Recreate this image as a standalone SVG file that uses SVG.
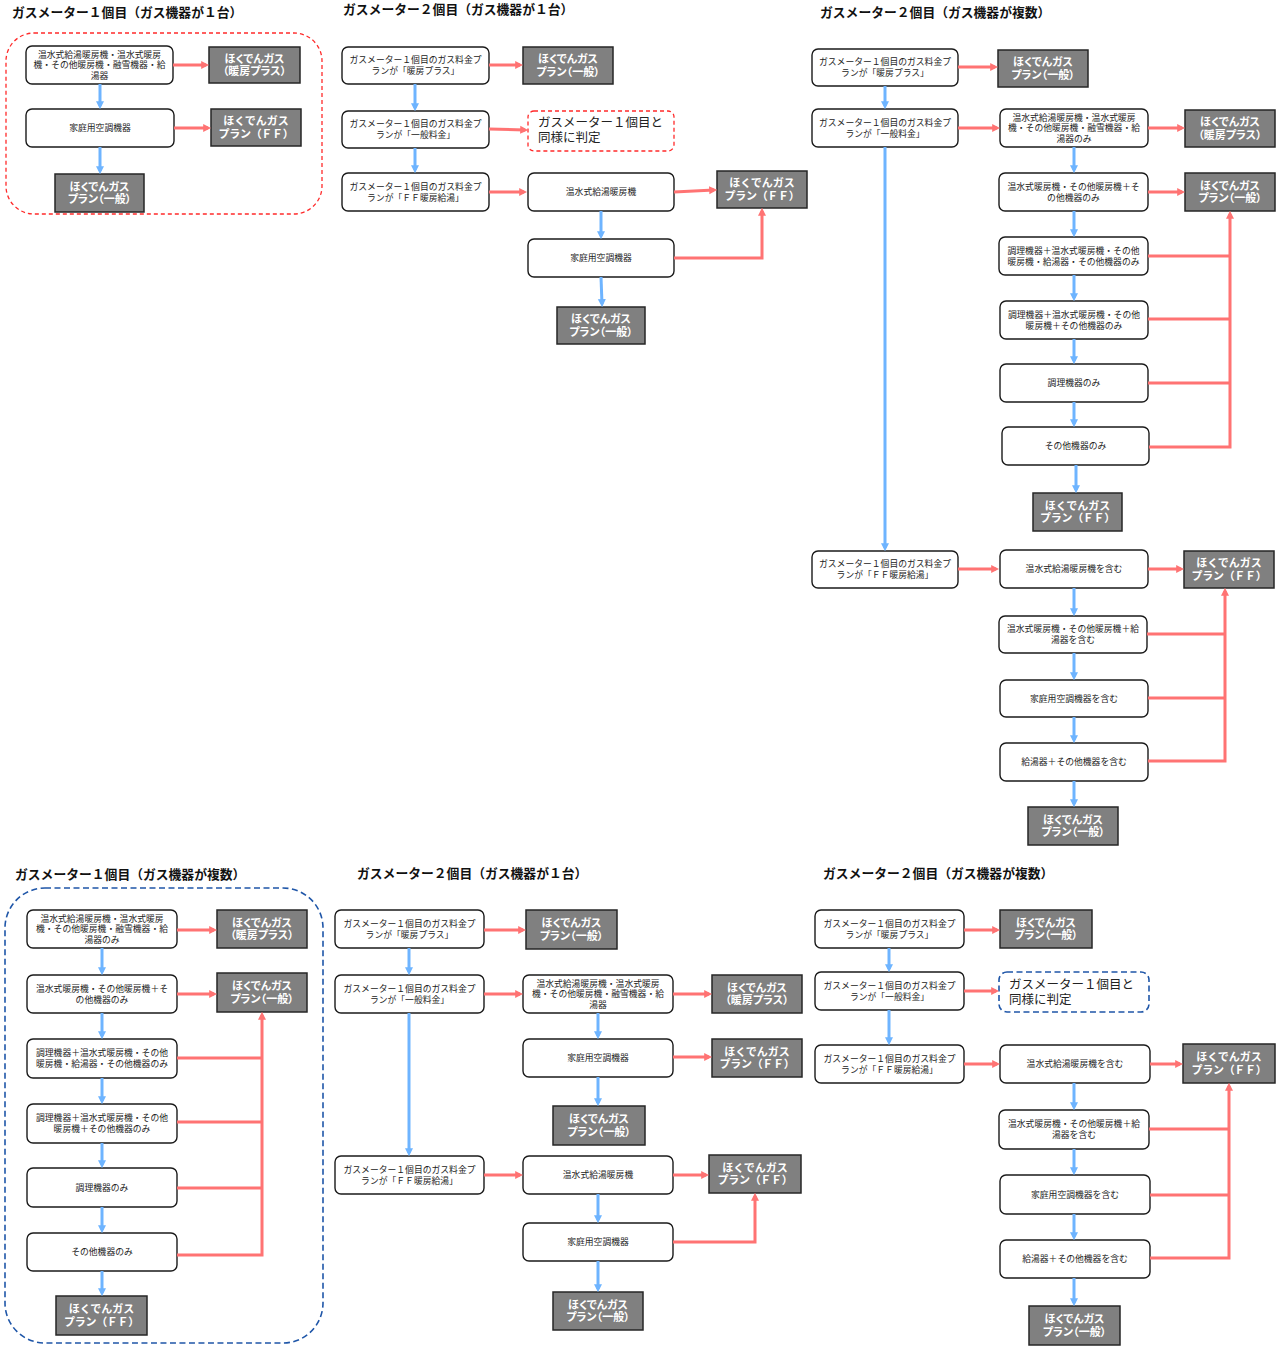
<svg xmlns="http://www.w3.org/2000/svg" width="1280" height="1349" viewBox="0 0 1280 1349">
<defs>
<style>
text{font-family:"Noto Sans CJK JP","Noto Sans CJK SC",sans-serif}
.n{fill:#fff;stroke:#1a1a1a;stroke-width:1.4}
.g{fill:#808080;stroke:#262626;stroke-width:1.5}
.t{font-size:8.8px;fill:#222;text-anchor:middle}
.gt{font-size:11px;font-weight:bold;fill:#fff;text-anchor:middle}
.p{font-feature-settings:"palt"}
.f{letter-spacing:-0.3px}
.h{font-size:12.8px;font-weight:bold;fill:#111}
.d{font-size:12.5px;fill:#222}
.b{stroke:#6EB4FF;stroke-width:3;fill:none;marker-end:url(#mb)}
.r{stroke:#FF7373;stroke-width:3;fill:none}
.ra{stroke:#FF7373;stroke-width:3;fill:none;marker-end:url(#mr)}
</style>
<marker id="mb" viewBox="0 0 10 10" refX="6" refY="5" markerWidth="8" markerHeight="9" markerUnits="userSpaceOnUse" orient="auto"><path d="M0,0 L10,5 L0,10 z" fill="#6EB4FF"/></marker>
<marker id="mr" viewBox="0 0 10 10" refX="6" refY="5" markerWidth="8" markerHeight="9" markerUnits="userSpaceOnUse" orient="auto"><path d="M0,0 L10,5 L0,10 z" fill="#FF7373"/></marker>
</defs>
<rect width="1280" height="1349" fill="#fff"/>

<g id="titles">
<text class="h" x="12" y="16.5">ガスメーター１個目（ガス機器が１台）</text>
<text class="h" x="343" y="14">ガスメーター２個目（ガス機器が１台）</text>
<text class="h" x="820" y="17">ガスメーター２個目（ガス機器が複数）</text>
<text class="h" x="15" y="879">ガスメーター１個目（ガス機器が複数）</text>
<text class="h" x="357" y="878">ガスメーター２個目（ガス機器が１台）</text>
<text class="h" x="823" y="878">ガスメーター２個目（ガス機器が複数）</text>
</g>

<g id="container-red"><rect x="6" y="33" width="316" height="181" rx="28" fill="none" stroke="#FF2A2A" stroke-width="1.3" stroke-dasharray="4 3"/></g>
<g id="container-blue"><rect x="5" y="888" width="318" height="455" rx="40" fill="none" stroke="#1F56A8" stroke-width="1.6" stroke-dasharray="6 3.5"/></g>

<!-- Section 1 -->
<g id="s1-a"><rect class="n" x="26" y="46" width="147" height="38" rx="6"/>
<text class="t" x="99.5" y="57.5"><tspan x="99.5">温水式給湯暖房機・温水式暖房</tspan><tspan x="99.5" dy="10.5">機・その他暖房機・融雪機器・給</tspan><tspan x="99.5" dy="10.5">湯器</tspan></text></g>
<g id="s1-g1"><rect class="g" x="209" y="47" width="91" height="36"/>
<text class="gt p" x="254.5" y="62.5"><tspan x="254.5">ほくでんガス</tspan><tspan x="254.5" dy="12.5">（暖房プラス）</tspan></text></g>
<g id="s1-b"><rect class="n" x="26" y="109" width="148" height="38" rx="6"/>
<text class="t" x="100" y="131">家庭用空調機器</text></g>
<g id="s1-g2"><rect class="g" x="211" y="109" width="90" height="37"/>
<text class="gt" x="256" y="125"><tspan x="256">ほくでんガス</tspan><tspan class="f" x="256" dy="12.5">プラン（ＦＦ）</tspan></text></g>
<g id="s1-g3"><rect class="g" x="55" y="174" width="89" height="38"/>
<text class="gt p" x="99.5" y="190.5"><tspan x="99.5">ほくでんガス</tspan><tspan x="99.5" dy="12.5">プラン（一般）</tspan></text></g>

<!-- Section 2 -->
<g id="s2-n1"><rect class="n" x="342" y="47" width="147" height="37" rx="6"/>
<text class="t" x="415.5" y="63"><tspan x="415.5">ガスメーター１個目のガス料金プ</tspan><tspan x="415.5" dy="11">ランが「暖房プラス」</tspan></text></g>
<g id="s2-g1"><rect class="g" x="523" y="47" width="90" height="37"/>
<text class="gt p" x="568" y="63"><tspan x="568">ほくでんガス</tspan><tspan x="568" dy="12.5">プラン（一般）</tspan></text></g>
<g id="s2-n2"><rect class="n" x="342" y="111" width="147" height="37" rx="6"/>
<text class="t" x="415.5" y="127"><tspan x="415.5">ガスメーター１個目のガス料金プ</tspan><tspan x="415.5" dy="11">ランが「一般料金」</tspan></text></g>
<g id="s2-d1"><rect x="528" y="111" width="146" height="40" rx="6" fill="#fff" stroke="#FF2A2A" stroke-width="1.3" stroke-dasharray="4 3"/>
<text class="d" x="538" y="127"><tspan x="538">ガスメーター１個目と</tspan><tspan x="538" dy="15">同様に判定</tspan></text></g>
<g id="s2-n3"><rect class="n" x="342" y="173" width="147" height="38" rx="6"/>
<text class="t" x="415.5" y="189.5"><tspan x="415.5">ガスメーター１個目のガス料金プ</tspan><tspan x="415.5" dy="11">ランが「ＦＦ暖房給湯」</tspan></text></g>
<g id="s2-n4"><rect class="n" x="528" y="173" width="146" height="38" rx="6"/>
<text class="t" x="601" y="195">温水式給湯暖房機</text></g>
<g id="s2-g2"><rect class="g" x="717" y="171" width="90" height="37"/>
<text class="gt" x="762" y="187"><tspan x="762">ほくでんガス</tspan><tspan class="f" x="762" dy="12.5">プラン（ＦＦ）</tspan></text></g>
<g id="s2-n5"><rect class="n" x="528" y="239" width="146" height="38" rx="6"/>
<text class="t" x="601" y="261">家庭用空調機器</text></g>
<g id="s2-g3"><rect class="g" x="557" y="307" width="88" height="37"/>
<text class="gt p" x="601" y="323"><tspan x="601">ほくでんガス</tspan><tspan x="601" dy="12.5">プラン（一般）</tspan></text></g>

<!-- Section 3 -->
<g id="s3-m1"><rect class="n" x="812" y="49" width="146" height="37" rx="6"/>
<text class="t" x="885" y="65"><tspan x="885">ガスメーター１個目のガス料金プ</tspan><tspan x="885" dy="11">ランが「暖房プラス」</tspan></text></g>
<g id="s3-g1"><rect class="g" x="998" y="50" width="90" height="37"/>
<text class="gt p" x="1043" y="66"><tspan x="1043">ほくでんガス</tspan><tspan x="1043" dy="12.5">プラン（一般）</tspan></text></g>
<g id="s3-m2"><rect class="n" x="812" y="109" width="146" height="38" rx="6"/>
<text class="t" x="885" y="125.5"><tspan x="885">ガスメーター１個目のガス料金プ</tspan><tspan x="885" dy="11">ランが「一般料金」</tspan></text></g>
<g id="s3-p1"><rect class="n" x="1000" y="109" width="148" height="38" rx="6"/>
<text class="t" x="1074" y="120.5"><tspan x="1074">温水式給湯暖房機・温水式暖房</tspan><tspan x="1074" dy="10.5">機・その他暖房機・融雪機器・給</tspan><tspan x="1074" dy="10.5">湯器のみ</tspan></text></g>
<g id="s3-g2"><rect class="g" x="1185" y="110" width="90" height="37"/>
<text class="gt p" x="1230" y="126"><tspan x="1230">ほくでんガス</tspan><tspan x="1230" dy="12.5">（暖房プラス）</tspan></text></g>
<g id="s3-p2"><rect class="n" x="999" y="173" width="149" height="38" rx="6"/>
<text class="t" x="1073.5" y="189.5"><tspan x="1073.5">温水式暖房機・その他暖房機＋そ</tspan><tspan x="1073.5" dy="11">の他機器のみ</tspan></text></g>
<g id="s3-g3"><rect class="g" x="1185" y="173" width="90" height="38"/>
<text class="gt p" x="1230" y="189.5"><tspan x="1230">ほくでんガス</tspan><tspan x="1230" dy="12.5">プラン（一般）</tspan></text></g>
<g id="s3-p3"><rect class="n" x="999" y="237" width="149" height="38" rx="6"/>
<text class="t" x="1073.5" y="253.5"><tspan x="1073.5">調理機器＋温水式暖房機・その他</tspan><tspan x="1073.5" dy="11">暖房機・給湯器・その他機器のみ</tspan></text></g>
<g id="s3-p4"><rect class="n" x="1000" y="301" width="148" height="38" rx="6"/>
<text class="t" x="1074" y="317.5"><tspan x="1074">調理機器＋温水式暖房機・その他</tspan><tspan x="1074" dy="11">暖房機＋その他機器のみ</tspan></text></g>
<g id="s3-p5"><rect class="n" x="1000" y="364" width="148" height="38" rx="6"/>
<text class="t" x="1074" y="386">調理機器のみ</text></g>
<g id="s3-p6"><rect class="n" x="1002" y="427" width="147" height="38" rx="6"/>
<text class="t" x="1075.5" y="449">その他機器のみ</text></g>
<g id="s3-g4"><rect class="g" x="1033" y="493" width="89" height="38"/>
<text class="gt" x="1077.5" y="509.5"><tspan x="1077.5">ほくでんガス</tspan><tspan class="f" x="1077.5" dy="12.5">プラン（ＦＦ）</tspan></text></g>
<g id="s3-m3"><rect class="n" x="812" y="551" width="146" height="37" rx="6"/>
<text class="t" x="885" y="567"><tspan x="885">ガスメーター１個目のガス料金プ</tspan><tspan x="885" dy="11">ランが「ＦＦ暖房給湯」</tspan></text></g>
<g id="s3-q1"><rect class="n" x="1000" y="550" width="148" height="38" rx="6"/>
<text class="t" x="1074" y="572">温水式給湯暖房機を含む</text></g>
<g id="s3-g5"><rect class="g" x="1184" y="551" width="90" height="37"/>
<text class="gt" x="1229" y="567"><tspan x="1229">ほくでんガス</tspan><tspan class="f" x="1229" dy="12.5">プラン（ＦＦ）</tspan></text></g>
<g id="s3-q2"><rect class="n" x="999" y="616" width="148" height="37" rx="6"/>
<text class="t" x="1073" y="632"><tspan x="1073">温水式暖房機・その他暖房機＋給</tspan><tspan x="1073" dy="11">湯器を含む</tspan></text></g>
<g id="s3-q3"><rect class="n" x="1000" y="680" width="148" height="37" rx="6"/>
<text class="t" x="1074" y="701.5">家庭用空調機器を含む</text></g>
<g id="s3-q4"><rect class="n" x="1000" y="743" width="148" height="38" rx="6"/>
<text class="t" x="1074" y="765">給湯器＋その他機器を含む</text></g>
<g id="s3-g6"><rect class="g" x="1028" y="807" width="90" height="38"/>
<text class="gt p" x="1073" y="823.5"><tspan x="1073">ほくでんガス</tspan><tspan x="1073" dy="12.5">プラン（一般）</tspan></text></g>

<!-- Section 4 -->
<g id="s4-r1"><rect class="n" x="27" y="910" width="150" height="38" rx="6"/>
<text class="t" x="102" y="921.5"><tspan x="102">温水式給湯暖房機・温水式暖房</tspan><tspan x="102" dy="10.5">機・その他暖房機・融雪機器・給</tspan><tspan x="102" dy="10.5">湯器のみ</tspan></text></g>
<g id="s4-g1"><rect class="g" x="217" y="910" width="90" height="38"/>
<text class="gt p" x="262" y="926.5"><tspan x="262">ほくでんガス</tspan><tspan x="262" dy="12.5">（暖房プラス）</tspan></text></g>
<g id="s4-r2"><rect class="n" x="27" y="975" width="150" height="38" rx="6"/>
<text class="t" x="102" y="991.5"><tspan x="102">温水式暖房機・その他暖房機＋そ</tspan><tspan x="102" dy="11">の他機器のみ</tspan></text></g>
<g id="s4-g2"><rect class="g" x="217" y="973" width="90" height="39"/>
<text class="gt p" x="262" y="990"><tspan x="262">ほくでんガス</tspan><tspan x="262" dy="12.5">プラン（一般）</tspan></text></g>
<g id="s4-r3"><rect class="n" x="27" y="1039" width="150" height="39" rx="6"/>
<text class="t" x="102" y="1056"><tspan x="102">調理機器＋温水式暖房機・その他</tspan><tspan x="102" dy="11">暖房機・給湯器・その他機器のみ</tspan></text></g>
<g id="s4-r4"><rect class="n" x="27" y="1104" width="150" height="39" rx="6"/>
<text class="t" x="102" y="1121"><tspan x="102">調理機器＋温水式暖房機・その他</tspan><tspan x="102" dy="11">暖房機＋その他機器のみ</tspan></text></g>
<g id="s4-r5"><rect class="n" x="27" y="1168" width="150" height="39" rx="6"/>
<text class="t" x="102" y="1190.5">調理機器のみ</text></g>
<g id="s4-r6"><rect class="n" x="27" y="1233" width="150" height="38" rx="6"/>
<text class="t" x="102" y="1255">その他機器のみ</text></g>
<g id="s4-g3"><rect class="g" x="56" y="1296" width="91" height="39"/>
<text class="gt" x="101.5" y="1313"><tspan x="101.5">ほくでんガス</tspan><tspan class="f" x="101.5" dy="12.5">プラン（ＦＦ）</tspan></text></g>

<!-- Section 5 -->
<g id="s5-s1"><rect class="n" x="335" y="910" width="149" height="38" rx="6"/>
<text class="t" x="409.5" y="926.5"><tspan x="409.5">ガスメーター１個目のガス料金プ</tspan><tspan x="409.5" dy="11">ランが「暖房プラス」</tspan></text></g>
<g id="s5-g1"><rect class="g" x="526" y="910" width="91" height="39"/>
<text class="gt p" x="571.5" y="927"><tspan x="571.5">ほくでんガス</tspan><tspan x="571.5" dy="12.5">プラン（一般）</tspan></text></g>
<g id="s5-s2"><rect class="n" x="335" y="975" width="149" height="38" rx="6"/>
<text class="t" x="409.5" y="991.5"><tspan x="409.5">ガスメーター１個目のガス料金プ</tspan><tspan x="409.5" dy="11">ランが「一般料金」</tspan></text></g>
<g id="s5-t1"><rect class="n" x="523" y="975" width="150" height="38" rx="6"/>
<text class="t" x="598" y="986.5"><tspan x="598">温水式給湯暖房機・温水式暖房</tspan><tspan x="598" dy="10.5">機・その他暖房機・融雪機器・給</tspan><tspan x="598" dy="10.5">湯器</tspan></text></g>
<g id="s5-g2"><rect class="g" x="712" y="975" width="90" height="38"/>
<text class="gt p" x="757" y="991.5"><tspan x="757">ほくでんガス</tspan><tspan x="757" dy="12.5">（暖房プラス）</tspan></text></g>
<g id="s5-t2"><rect class="n" x="523" y="1039" width="150" height="38" rx="6"/>
<text class="t" x="598" y="1061">家庭用空調機器</text></g>
<g id="s5-g3"><rect class="g" x="712" y="1039" width="90" height="38"/>
<text class="gt" x="757" y="1055.5"><tspan x="757">ほくでんガス</tspan><tspan class="f" x="757" dy="12.5">プラン（ＦＦ）</tspan></text></g>
<g id="s5-g4"><rect class="g" x="553" y="1106" width="92" height="39"/>
<text class="gt p" x="599" y="1123"><tspan x="599">ほくでんガス</tspan><tspan x="599" dy="12.5">プラン（一般）</tspan></text></g>
<g id="s5-s3"><rect class="n" x="335" y="1156" width="149" height="38" rx="6"/>
<text class="t" x="409.5" y="1172.5"><tspan x="409.5">ガスメーター１個目のガス料金プ</tspan><tspan x="409.5" dy="11">ランが「ＦＦ暖房給湯」</tspan></text></g>
<g id="s5-u1"><rect class="n" x="523" y="1156" width="150" height="38" rx="6"/>
<text class="t" x="598" y="1178">温水式給湯暖房機</text></g>
<g id="s5-g5"><rect class="g" x="709" y="1155" width="92" height="38"/>
<text class="gt" x="755" y="1171.5"><tspan x="755">ほくでんガス</tspan><tspan class="f" x="755" dy="12.5">プラン（ＦＦ）</tspan></text></g>
<g id="s5-u2"><rect class="n" x="523" y="1223" width="150" height="38" rx="6"/>
<text class="t" x="598" y="1245">家庭用空調機器</text></g>
<g id="s5-g6"><rect class="g" x="553" y="1292" width="90" height="38"/>
<text class="gt p" x="598" y="1308.5"><tspan x="598">ほくでんガス</tspan><tspan x="598" dy="12.5">プラン（一般）</tspan></text></g>

<!-- Section 6 -->
<g id="s6-v1"><rect class="n" x="815" y="910" width="149" height="38" rx="6"/>
<text class="t" x="889.5" y="926.5"><tspan x="889.5">ガスメーター１個目のガス料金プ</tspan><tspan x="889.5" dy="11">ランが「暖房プラス」</tspan></text></g>
<g id="s6-g1"><rect class="g" x="1000" y="910" width="92" height="38"/>
<text class="gt p" x="1046" y="926.5"><tspan x="1046">ほくでんガス</tspan><tspan x="1046" dy="12.5">プラン（一般）</tspan></text></g>
<g id="s6-v2"><rect class="n" x="815" y="972" width="149" height="38" rx="6"/>
<text class="t" x="889.5" y="988.5"><tspan x="889.5">ガスメーター１個目のガス料金プ</tspan><tspan x="889.5" dy="11">ランが「一般料金」</tspan></text></g>
<g id="s6-d2"><rect x="999" y="972" width="150" height="40" rx="8" fill="#fff" stroke="#1F56A8" stroke-width="1.6" stroke-dasharray="6 3.5"/>
<text class="d" x="1009" y="989"><tspan x="1009">ガスメーター１個目と</tspan><tspan x="1009" dy="15">同様に判定</tspan></text></g>
<g id="s6-v3"><rect class="n" x="815" y="1045" width="149" height="38" rx="6"/>
<text class="t" x="889.5" y="1061.5"><tspan x="889.5">ガスメーター１個目のガス料金プ</tspan><tspan x="889.5" dy="11">ランが「ＦＦ暖房給湯」</tspan></text></g>
<g id="s6-w1"><rect class="n" x="1000" y="1045" width="150" height="38" rx="6"/>
<text class="t" x="1075" y="1067">温水式給湯暖房機を含む</text></g>
<g id="s6-g2"><rect class="g" x="1183" y="1044" width="92" height="39"/>
<text class="gt" x="1229" y="1061"><tspan x="1229">ほくでんガス</tspan><tspan class="f" x="1229" dy="12.5">プラン（ＦＦ）</tspan></text></g>
<g id="s6-w2"><rect class="n" x="999" y="1110" width="150" height="39" rx="6"/>
<text class="t" x="1074" y="1127"><tspan x="1074">温水式暖房機・その他暖房機＋給</tspan><tspan x="1074" dy="11">湯器を含む</tspan></text></g>
<g id="s6-w3"><rect class="n" x="1000" y="1175" width="150" height="39" rx="6"/>
<text class="t" x="1075" y="1197.5">家庭用空調機器を含む</text></g>
<g id="s6-w4"><rect class="n" x="1000" y="1240" width="150" height="38" rx="6"/>
<text class="t" x="1075" y="1262">給湯器＋その他機器を含む</text></g>
<g id="s6-g3"><rect class="g" x="1029" y="1306" width="91" height="39"/>
<text class="gt p" x="1074.5" y="1323"><tspan x="1074.5">ほくでんガス</tspan><tspan x="1074.5" dy="12.5">プラン（一般）</tspan></text></g>

<g id="connectors">
<path class="ra" d="M173,65 H206"/>
<path class="ra" d="M174,128 H208"/>
<path class="b" d="M100,84 V106"/>
<path class="b" d="M100,147 V171"/>
<path class="ra" d="M489,65 H520"/>
<path class="ra" d="M489,129 L525,130"/>
<path class="ra" d="M489,192 H524"/>
<path class="ra" d="M674,192 L714,190"/>
<path class="ra" d="M674,258 H762 V211"/>
<path class="b" d="M415,84 V108"/>
<path class="b" d="M415,148 V170"/>
<path class="b" d="M601,211 V236"/>
<path class="b" d="M601,277 L602,304"/>
<path class="ra" d="M958,67 H995"/>
<path class="ra" d="M958,128 H997"/>
<path class="ra" d="M1148,128 H1182"/>
<path class="ra" d="M1148,192 H1182"/>
<path class="r" d="M1148,256 H1230"/>
<path class="r" d="M1148,319 H1230"/>
<path class="r" d="M1148,383 H1230"/>
<path class="ra" d="M1149,447 H1230 V214"/>
<path class="b" d="M885,86 V106"/>
<path class="b" d="M885,147 V548"/>
<path class="b" d="M1074,147 V170"/>
<path class="b" d="M1074,211 V234"/>
<path class="b" d="M1074,275 V298"/>
<path class="b" d="M1074,339 V361"/>
<path class="b" d="M1074,402 V424"/>
<path class="b" d="M1076,465 V490"/>
<path class="ra" d="M958,569 H996"/>
<path class="ra" d="M1148,569 H1181"/>
<path class="r" d="M1147,634 H1225"/>
<path class="r" d="M1148,698 H1225"/>
<path class="ra" d="M1148,761 H1225 V591"/>
<path class="b" d="M1074,588 V613"/>
<path class="b" d="M1074,653 V677"/>
<path class="b" d="M1074,717 V740"/>
<path class="b" d="M1074,781 V804"/>
<path class="ra" d="M177,930 H214"/>
<path class="ra" d="M177,994 H214"/>
<path class="r" d="M177,1058 H262"/>
<path class="r" d="M177,1122 H262"/>
<path class="r" d="M177,1188 H262"/>
<path class="ra" d="M177,1255 H262 V1015"/>
<path class="b" d="M102,948 V972"/>
<path class="b" d="M102,1013 V1036"/>
<path class="b" d="M102,1078 V1101"/>
<path class="b" d="M102,1143 V1165"/>
<path class="b" d="M102,1207 V1230"/>
<path class="b" d="M102,1271 V1293"/>
<path class="ra" d="M484,930 H523"/>
<path class="ra" d="M484,994 H520"/>
<path class="ra" d="M673,994 H709"/>
<path class="ra" d="M673,1057 H709"/>
<path class="ra" d="M484,1175 H520"/>
<path class="ra" d="M673,1175 H706"/>
<path class="ra" d="M673,1242 H755 V1196"/>
<path class="b" d="M409,948 V972"/>
<path class="b" d="M409,1013 V1153"/>
<path class="b" d="M598,1013 V1036"/>
<path class="b" d="M598,1077 V1103"/>
<path class="b" d="M598,1194 V1220"/>
<path class="b" d="M598,1261 V1289"/>
<path class="ra" d="M964,930 H997"/>
<path class="ra" d="M964,991 H996"/>
<path class="ra" d="M964,1064 H997"/>
<path class="ra" d="M1150,1064 H1180"/>
<path class="r" d="M1149,1129 H1229"/>
<path class="r" d="M1150,1195 H1229"/>
<path class="ra" d="M1150,1258 H1229 V1086"/>
<path class="b" d="M889,948 V969"/>
<path class="b" d="M889,1010 V1042"/>
<path class="b" d="M1074,1083 V1107"/>
<path class="b" d="M1074,1149 V1172"/>
<path class="b" d="M1074,1214 V1237"/>
<path class="b" d="M1074,1278 V1303"/>
</g>
</svg>
